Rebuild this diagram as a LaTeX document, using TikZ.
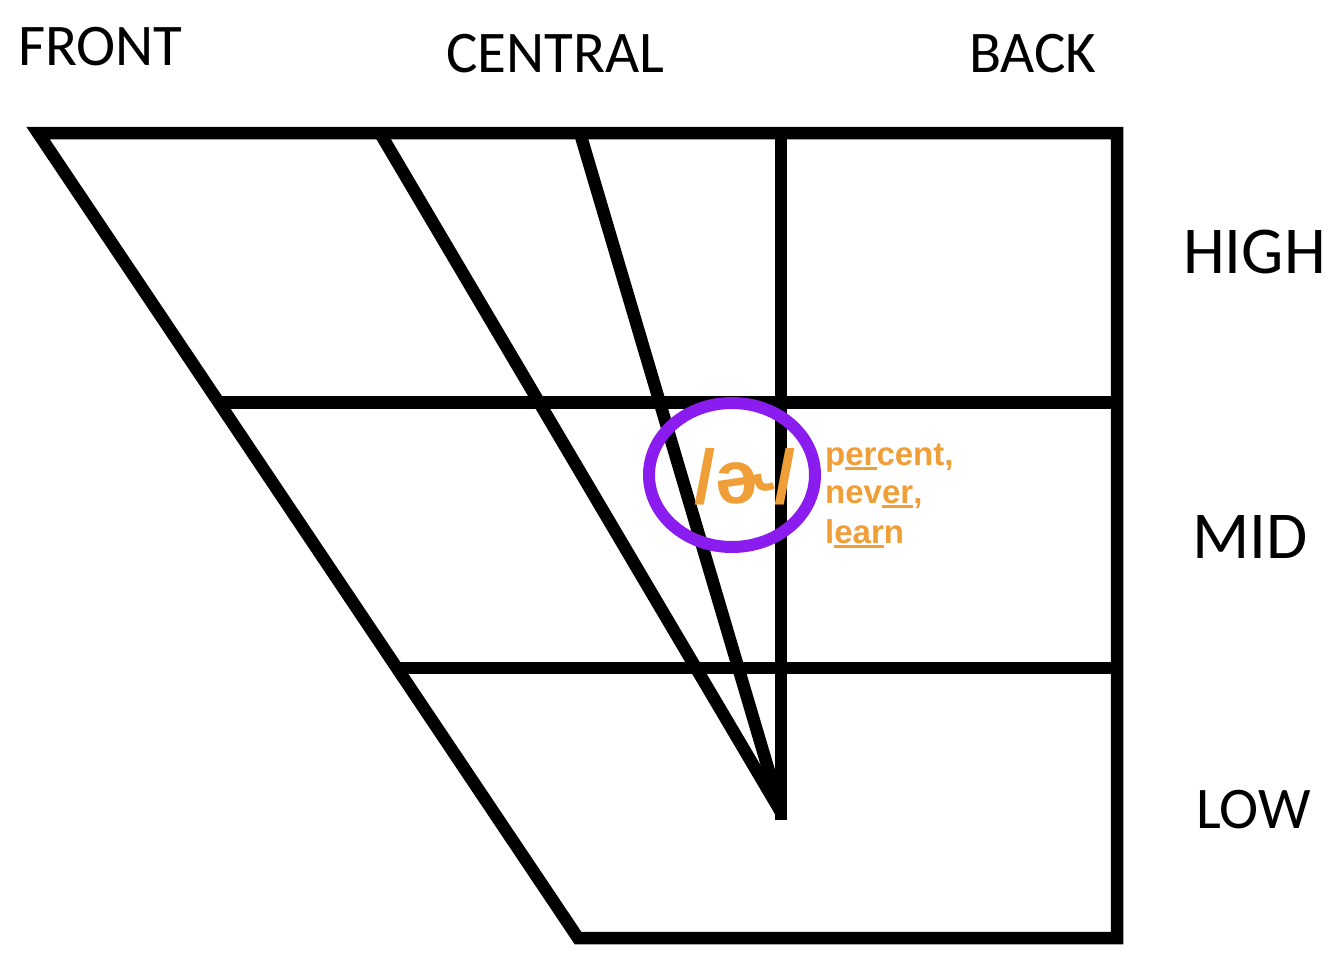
\documentclass[tikz,border=0pt]{standalone}
\usepackage{fontspec}
\setmainfont{Carlito}
\newfontfamily\ipafont{Liberation Sans}
\definecolor{vpurple}{RGB}{138,28,240}
\definecolor{vorange}{RGB}{240,158,56}
\newcommand\ulx[1]{\setbox0\hbox{#1}\rlap{\rule[-5pt]{\wd0}{3pt}}\box0}
\begin{document}
\begin{tikzpicture}[x=1pt,y=-1pt,
  grid/.style={line width=12.5pt, line join=miter, line cap=butt},
  lab/.style={anchor=base west, inner sep=0pt, font=\fontsize{59}{70}\selectfont},
  labbig/.style={anchor=base west, inner sep=0pt, font=\fontsize{67}{78}\selectfont},
  example/.style={anchor=base west, inner sep=0pt, text=vorange,
    font=\ipafont\bfseries\fontsize{33}{39}\selectfont}]
\useasboundingbox (0,0) rectangle (1334,956);
\fill[white] (0,0) rectangle (1334,956);
% corners
\coordinate (TL) at (38,133);
\coordinate (TR) at (1117,133);
\coordinate (BR) at (1117,938);
\coordinate (BL) at (578,938);
\coordinate (HL) at (220,402.5);
\coordinate (HR) at (1117,402.5);
\coordinate (ML) at (397,668);
\coordinate (MR) at (1117,668);
\coordinate (S2) at (380,133);
\coordinate (S3) at (580,133);
\coordinate (VT) at (781,133);
\coordinate (TIP) at (781,812);
\coordinate (VB) at (781,820);
% outline and grid
\draw[grid] (TL) -- (TR) -- (BR) -- (BL) -- cycle;
\draw[grid] (HL) -- (HR);
\draw[grid] (ML) -- (MR);
\draw[grid] (VT) -- (VB);
\draw[grid] (S2) -- (TIP);
\draw[grid] (S3) -- (TIP);
% labels
\node[lab] (front) at (18,65) {FRONT};
\node[lab] (central) at (446,72) {CENTRAL};
\node[lab] (back) at (969,72) {BACK};
\node[labbig] (high) at (1183,273) {HIGH};
\node[labbig] (mid) at (1192,558) {MID};
\node[lab] (low) at (1196,828) {LOW};
% schwa
\draw[vpurple, line width=12pt] (732,475) ellipse [x radius=83, y radius=72];
\node[anchor=base, inner sep=0pt, text=vorange, font=\ipafont\bfseries\fontsize{76}{86}\selectfont] (schwa) at (745,503) {/ɚ/};
\node[example] (ex1) at (825,465) {p\ulx{er}cent,};
\node[example] (ex2) at (825,503) {nev\ulx{er},};
\node[example] (ex3) at (825,543) {l\ulx{ear}n};
\end{tikzpicture}
\end{document}
